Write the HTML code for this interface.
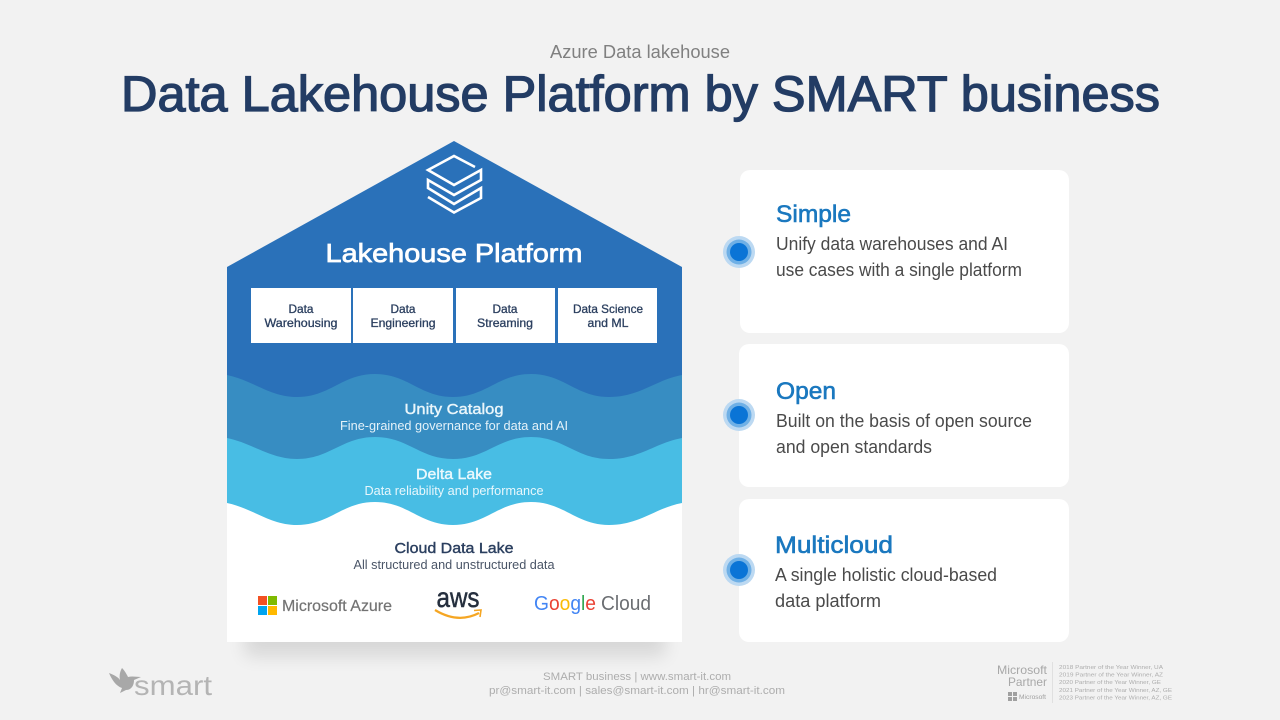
<!DOCTYPE html>
<html><head><meta charset="utf-8"><style>
html,body{margin:0;padding:0;background:#f2f2f2;width:1280px;height:720px;overflow:hidden}
svg{display:block}
text{font-family:"Liberation Sans",sans-serif}
</style></head><body>
<svg width="1280" height="720" viewBox="0 0 1280 720" xmlns="http://www.w3.org/2000/svg">
<defs>
<filter id="sh" x="-20%" y="-150%" width="140%" height="400%"><feGaussianBlur stdDeviation="9"/></filter>
</defs>
<rect width="1280" height="720" fill="#f2f2f2"/>

<text x="640" y="58" text-anchor="middle" font-size="18" fill="#808080" textLength="180" lengthAdjust="spacingAndGlyphs">Azure Data lakehouse</text>
<text x="121" y="111" font-size="50" stroke="#233c64" stroke-width="1.3" fill="#233c64" textLength="1039" lengthAdjust="spacingAndGlyphs">Data Lakehouse Platform by SMART business</text>

<!-- house -->
<rect x="245" y="622" width="420" height="34" fill="#000" opacity=".11" filter="url(#sh)"/>
<polygon points="454,141 682,267 682,642 227,642 227,267" fill="#2a71b9"/>
<path d="M227 375C252 380 270 397 297 397C330 397 342 374 375 374C408 374 420 397 453 397C486 397 498 374 531 374C564 374 576 397 609 397C640 397 655 380 682 375V642H227Z" fill="#378dc2"/>
<path d="M227 438C252 443 270 459 297 459C330 459 342 437 375 437C408 437 420 459 453 459C486 459 498 437 531 437C564 437 576 459 609 459C640 459 655 443 682 438V642H227Z" fill="#48bde4"/>
<path d="M227 503C252 508 270 525 297 525C330 525 342 502 375 502C408 502 420 525 453 525C486 525 498 502 531 502C564 502 576 525 609 525C640 525 655 508 682 503V642H227Z" fill="#fff"/>

<!-- stack icon -->
<g fill="none" stroke="#fff" stroke-width="2.6" stroke-linejoin="miter">
<path d="M475 167L454 156L428 170L454 185L481 170V180L454 195L428 180V188L454 204L481 188V198L454 212.500L428 197"/>
</g>

<text x="454" y="262" text-anchor="middle" font-size="26" stroke="#fff" stroke-width=".7" fill="#fff" textLength="257" lengthAdjust="spacingAndGlyphs">Lakehouse Platform</text>

<!-- boxes -->
<g fill="#fff">
<rect x="251" y="288" width="100" height="55"/>
<rect x="353" y="288" width="100" height="55"/>
<rect x="456" y="288" width="99" height="55"/>
<rect x="558" y="288" width="99" height="55"/>
</g>
<g font-size="12" stroke="#2b3f5f" stroke-width=".3" fill="#2b3f5f" text-anchor="middle">
<text x="301" y="313" textLength="25" lengthAdjust="spacingAndGlyphs">Data</text>
<text x="301" y="327" textLength="73" lengthAdjust="spacingAndGlyphs">Warehousing</text>
<text x="403" y="313" textLength="25" lengthAdjust="spacingAndGlyphs">Data</text>
<text x="403" y="327" textLength="65" lengthAdjust="spacingAndGlyphs">Engineering</text>
<text x="505" y="313" textLength="25" lengthAdjust="spacingAndGlyphs">Data</text>
<text x="505" y="327" textLength="56" lengthAdjust="spacingAndGlyphs">Streaming</text>
<text x="608" y="313" textLength="70" lengthAdjust="spacingAndGlyphs">Data Science</text>
<text x="608" y="327" textLength="41" lengthAdjust="spacingAndGlyphs">and ML</text>
</g>

<text x="454" y="414" text-anchor="middle" font-size="15" stroke="#eaf6fb" stroke-width=".4" fill="#eaf6fb" textLength="99" lengthAdjust="spacingAndGlyphs">Unity Catalog</text>
<text x="454" y="430" text-anchor="middle" font-size="12.5" fill="#e4f2f9" textLength="228" lengthAdjust="spacingAndGlyphs">Fine-grained governance for data and AI</text>
<text x="454" y="479" text-anchor="middle" font-size="15" stroke="#eaf8fd" stroke-width=".4" fill="#eaf8fd" textLength="76" lengthAdjust="spacingAndGlyphs">Delta Lake</text>
<text x="454" y="495" text-anchor="middle" font-size="12.5" fill="#e8f7fc" textLength="179" lengthAdjust="spacingAndGlyphs">Data reliability and performance</text>
<text x="454" y="553" text-anchor="middle" font-size="15" stroke="#2b3f5f" stroke-width=".4" fill="#2b3f5f" textLength="119" lengthAdjust="spacingAndGlyphs">Cloud Data Lake</text>
<text x="454" y="569" text-anchor="middle" font-size="12.5" fill="#4a5567" textLength="201" lengthAdjust="spacingAndGlyphs">All structured and unstructured data</text>

<!-- logos -->
<rect x="258" y="596" width="9" height="9" fill="#f25022"/>
<rect x="268" y="596" width="9" height="9" fill="#7fba00"/>
<rect x="258" y="606" width="9" height="9" fill="#00a4ef"/>
<rect x="268" y="606" width="9" height="9" fill="#ffb900"/>
<text x="282" y="611" font-size="16" stroke="#737373" stroke-width=".2" fill="#737373" textLength="110" lengthAdjust="spacingAndGlyphs">Microsoft Azure</text>

<text x="458" y="607" text-anchor="middle" font-size="28" stroke="#252f3e" stroke-width=".5" fill="#252f3e" textLength="43" lengthAdjust="spacingAndGlyphs">aws</text>
<path d="M435 610Q458 624 479 613" fill="none" stroke="#f5a623" stroke-width="2.2"/>
<path d="M474 610.500L481 610L480 617" fill="none" stroke="#f5a623" stroke-width="1.6"/>

<text y="610" font-size="20" textLength="62" lengthAdjust="spacingAndGlyphs" x="534"><tspan fill="#4285f4">G</tspan><tspan fill="#ea4335">o</tspan><tspan fill="#fbbc05">o</tspan><tspan fill="#4285f4">g</tspan><tspan fill="#34a853">l</tspan><tspan fill="#ea4335">e</tspan></text>
<text x="601" y="610" font-size="20" fill="#6b6e72" textLength="50" lengthAdjust="spacingAndGlyphs">Cloud</text>

<!-- cards -->
<rect x="740" y="170" width="329" height="163" rx="10" fill="#fff"/>
<rect x="739" y="344" width="330" height="143" rx="10" fill="#fff"/>
<rect x="739" y="499" width="330" height="143" rx="10" fill="#fff"/>

<g font-size="24" stroke="#1a78bf" stroke-width=".6" fill="#1a78bf">
<text x="776" y="222" textLength="75" lengthAdjust="spacingAndGlyphs">Simple</text>
<text x="776" y="399" textLength="60" lengthAdjust="spacingAndGlyphs">Open</text>
<text x="775" y="553" textLength="118" lengthAdjust="spacingAndGlyphs">Multicloud</text>
</g>
<g font-size="18" fill="#4a4a4a">
<text x="776" y="250" textLength="232" lengthAdjust="spacingAndGlyphs">Unify data warehouses and AI</text>
<text x="776" y="276" textLength="246" lengthAdjust="spacingAndGlyphs">use cases with a single platform</text>
<text x="776" y="427" textLength="256" lengthAdjust="spacingAndGlyphs">Built on the basis of open source</text>
<text x="776" y="453" textLength="156" lengthAdjust="spacingAndGlyphs">and open standards</text>
<text x="775" y="581" textLength="222" lengthAdjust="spacingAndGlyphs">A single holistic cloud-based</text>
<text x="775" y="607" textLength="106" lengthAdjust="spacingAndGlyphs">data platform</text>
</g>

<!-- bullets -->
<g>
<circle cx="739" cy="252" r="16" fill="#bcd9f2"/><circle cx="739" cy="252" r="12.5" fill="#6fb0e6"/><circle cx="739" cy="252" r="9" fill="#0a74d6"/>
<circle cx="739" cy="415" r="16" fill="#bcd9f2"/><circle cx="739" cy="415" r="12.5" fill="#6fb0e6"/><circle cx="739" cy="415" r="9" fill="#0a74d6"/>
<circle cx="739" cy="570" r="16" fill="#bcd9f2"/><circle cx="739" cy="570" r="12.5" fill="#6fb0e6"/><circle cx="739" cy="570" r="9" fill="#0a74d6"/>
</g>

<!-- footer -->
<text x="637" y="680" text-anchor="middle" font-size="11" fill="#adadad" textLength="188" lengthAdjust="spacingAndGlyphs">SMART business | www.smart-it.com</text>
<text x="637" y="694" text-anchor="middle" font-size="11" fill="#adadad" textLength="296" lengthAdjust="spacingAndGlyphs">pr@smart-it.com | sales@smart-it.com | hr@smart-it.com</text>

<!-- smart logo -->
<path d="M109 673C114 675 118 677 120 680C119 676 120 671 122 668C125 671 127 675 128 677C132 676 137 677 141 677L134 680C134 686 131 690 126 690L120 693L122 688C116 686 112 680 109 673Z" fill="#a8a8a8"/>
<text x="134" y="695" font-size="28" fill="#b4b4b4" textLength="78" lengthAdjust="spacingAndGlyphs">smart</text>

<!-- partner -->
<text x="1047" y="674" text-anchor="end" font-size="12" fill="#a8a8a8" textLength="50" lengthAdjust="spacingAndGlyphs">Microsoft</text>
<text x="1047" y="686" text-anchor="end" font-size="12" fill="#a8a8a8" textLength="39" lengthAdjust="spacingAndGlyphs">Partner</text>
<rect x="1008" y="692" width="4" height="4" fill="#a0a0a0"/><rect x="1013" y="692" width="4" height="4" fill="#a0a0a0"/>
<rect x="1008" y="697" width="4" height="4" fill="#a0a0a0"/><rect x="1013" y="697" width="4" height="4" fill="#a0a0a0"/>
<text x="1019" y="699" font-size="6.500" fill="#a0a0a0" textLength="27" lengthAdjust="spacingAndGlyphs">Microsoft</text>
<line x1="1052.500" y1="662" x2="1052.500" y2="703" stroke="#e0e0e0"/>
<g font-size="5.800" fill="#adadad">
<text x="1059" y="669" textLength="104" lengthAdjust="spacingAndGlyphs">2018 Partner of the Year Winner, UA</text>
<text x="1059" y="676.500" textLength="104" lengthAdjust="spacingAndGlyphs">2019 Partner of the Year Winner, AZ</text>
<text x="1059" y="684" textLength="102" lengthAdjust="spacingAndGlyphs">2020 Partner of the Year Winner, GE</text>
<text x="1059" y="692" textLength="113" lengthAdjust="spacingAndGlyphs">2021 Partner of the Year Winner, AZ, GE</text>
<text x="1059" y="699.500" textLength="113" lengthAdjust="spacingAndGlyphs">2023 Partner of the Year Winner, AZ, GE</text>
</g>
</svg>
</body></html>
